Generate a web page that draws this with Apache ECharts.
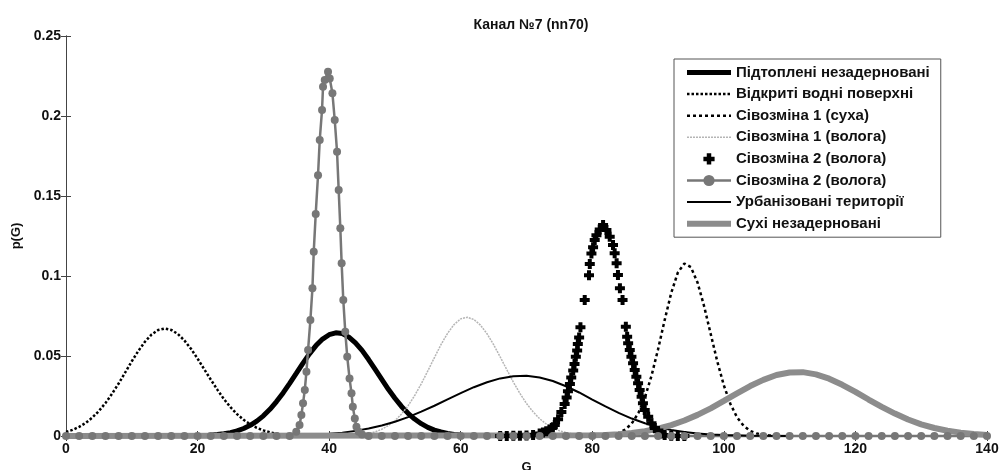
<!DOCTYPE html>
<html>
<head>
<meta charset="utf-8">
<script src="https://cdn.jsdelivr.net/npm/echarts@6/dist/echarts.min.js"></script>
<style>
  html, body { margin: 0; padding: 0; background: #fff; overflow: hidden; }
  #chart { width: 1001px; height: 470px; }
</style>
</head>
<body>
<div id="chart"></div>
<script>
// ===== Data =====
const seriesNames = [
  'Підтоплені незадерновані',
  'Відкриті водні поверхні',
  'Сівозміна 1 (суха)',
  'Сівозміна 1 (волога)',
  'Сівозміна 2 (волога)',
  'Сівозміна 2 (волога) ',
  'Урбанізовані території',
  'Сухі незадерновані'
];

const xTicks = [0, 20, 40, 60, 80, 100, 120, 140];
const yTicks = [0, 0.05, 0.1, 0.15, 0.2, 0.25];

// Підтоплені незадерновані
const podX = [22,23,24,25,26,27,28,29,30,31,32,33,34,35,36,37,38,39,40,41,42,43,44,45,46,47,48,49,50,51,52,53,54,55,56,57,58,59,60];
const podY = [0.0005,0.0009,0.0014,0.0021,0.0032,0.0047,0.0067,0.0093,0.0126,0.0167,0.0215,0.0269,0.0329,0.0391,0.0454,0.0513,0.0565,0.0606,0.0633,0.0645,0.0640,0.0618,0.0582,0.0535,0.0478,0.0416,0.0354,0.0292,0.0236,0.0185,0.0142,0.0106,0.0077,0.0054,0.0037,0.0025,0.0016,0.0010,0.0006];

// Відкриті водні поверхні
const waterX = [0,1,2,3,4,5,6,7,8,9,10,11,12,13,14,15,16,17,18,19,20,21,22,23,24,25,26,27,28,29,30,31,32,33,34,36];
const waterY = [0.0025,0.0038,0.0057,0.0082,0.0115,0.0156,0.0206,0.0264,0.0328,0.0397,0.0467,0.0532,0.0589,0.0634,0.0662,0.0672,0.0663,0.0638,0.0597,0.0545,0.0484,0.0418,0.0353,0.0290,0.0231,0.0180,0.0137,0.0101,0.0073,0.0051,0.0035,0.0023,0.0015,0.0009,0.0006,0];

// Сівозміна 1 (суха)
const dryX = [82,83,84,85,86,87,88,89,90,91,92,93,94,95,96,97,98,99,100,101,102,103,104,105,106,108];
const dryY = [0,0.0008,0.0019,0.0040,0.0078,0.0143,0.0241,0.0376,0.0542,0.0724,0.0894,0.1021,0.1078,0.1055,0.0959,0.0811,0.0638,0.0466,0.0316,0.0200,0.0117,0.0064,0.0032,0.0015,0.0007,0];

// Сівозміна 1 (волога)
const wet1X = [43,45,46,47,48,49,50,51,52,53,54,55,56,57,58,59,60,61,62,63,64,65,66,67,68,69,70,71,72,73,74,75,76,77,78,80];
const wet1Y = [0,0.0010,0.0016,0.0026,0.0042,0.0065,0.0096,0.0137,0.0189,0.0253,0.0326,0.0407,0.0490,0.0571,0.0642,0.0697,0.0732,0.0742,0.0728,0.0693,0.0639,0.0571,0.0494,0.0415,0.0337,0.0266,0.0203,0.0151,0.0108,0.0075,0.0051,0.0033,0.0021,0.0013,0.0008,0];

// Сівозміна 2 (волога), "+" markers
const wet2X = [66,67,68,69,70,71,72,72.5,73,73.5,74,74.3,74.8,75.3,75.8,76.1,76.3,76.6,76.8,77.1,77.3,77.5,77.7,77.8,78.0,78.2,78.85,79.5,79.62,79.87,80.12,80.37,80.63,81.13,81.64,82.15,82.65,83.15,83.4,83.7,83.9,84.2,84.6,85.1,85.3,85.45,85.7,85.95,86.2,86.45,86.7,86.96,87.2,87.5,87.7,87.97,88.5,89.0,89.5,90,90.5,91,92,93,94];
const wet2Y = [0,0,0.0001,0.0002,0.0003,0.0007,0.0015,0.0022,0.0030,0.0040,0.0055,0.0068,0.0105,0.0150,0.0200,0.0240,0.0280,0.0325,0.0365,0.0410,0.0450,0.0495,0.0535,0.0575,0.0615,0.0680,0.0850,0.1005,0.1075,0.1140,0.1180,0.1225,0.1255,0.1290,0.1318,0.1288,0.1246,0.1194,0.1142,0.1079,0.1006,0.0923,0.0850,0.0683,0.0620,0.0579,0.0538,0.0496,0.0454,0.0413,0.0371,0.0330,0.0288,0.0246,0.0204,0.0163,0.0121,0.0079,0.0050,0.0030,0.0015,0.0007,0.0002,0,0];

// Сівозміна 2 (волога), line with circles
const circX = [35.0,35.5,35.78,36.03,36.3,36.55,36.8,37.15,37.46,37.66,37.96,38.31,38.57,38.92,39.07,39.33,39.83,40.09,40.5,40.85,41.2,41.45,41.7,41.9,42.15,42.45,42.75,43.1,43.4,43.6,43.9,44.15,44.5,45];
const circY = [0.0027,0.0069,0.0131,0.0204,0.0288,0.0402,0.0538,0.0725,0.0923,0.1152,0.1388,0.1630,0.1850,0.2038,0.2183,0.2225,0.2277,0.2235,0.2142,0.1975,0.1777,0.1538,0.1298,0.1079,0.0850,0.0652,0.0496,0.0360,0.0267,0.0183,0.0110,0.0058,0.0027,0.0010];
const circZeroLeft = [0,2,4,6,8,10,12,14,16,18,20,22,24,26,28,30,32,34];
const circZeroRight = [46,48,50,52,54,56,58,60,62,64,66,68,70,72,74,76,78,80,82,84,86,88,90,92,94,96,98,100,102,104,106,108,110,112,114,116,118,120,122,124,126,128,130,132,134,136,138,140];

// Урбанізовані території
const urbX = [34,36,38,40,42,44,46,48,50,52,54,56,58,60,62,64,66,68,70,72,74,76,78,80,82,84,86,88,90,92,94,96,98,100,104,110];
const urbY = [0.0003,0.0005,0.0009,0.0014,0.0021,0.0032,0.0047,0.0066,0.0089,0.0118,0.0152,0.0189,0.0229,0.0268,0.0305,0.0336,0.0360,0.0374,0.0377,0.0366,0.0344,0.0311,0.0272,0.0228,0.0185,0.0145,0.0109,0.0080,0.0056,0.0038,0.0025,0.0016,0.0009,0.0006,0.0002,0];

// Сухі незадерновані
const sukhX = [0,80,82,84,86,88,90,92,94,96,98,100,102,104,106,108,110,112,114,116,118,120,122,124,126,128,130,132,134,136,138,140];
const sukhY = [0,0.0004,0.0007,0.0011,0.0019,0.0030,0.0046,0.0068,0.0097,0.0132,0.0173,0.0219,0.0266,0.0312,0.0351,0.0381,0.0397,0.0399,0.0385,0.0358,0.0320,0.0276,0.0228,0.0182,0.0140,0.0103,0.0073,0.0050,0.0033,0.0021,0.0013,0.0007];

// ===== helpers =====
const pairs = (xs, ys) => xs.map((x, i) => [x, ys[i]]);
const circData = circZeroLeft.map(x => [x, 0])
  .concat(pairs(circX, circY))
  .concat(circZeroRight.map(x => [x, 0]));

const plusPath = 'path://M3,0H7V3H10V7H7V10H3V7H0V3H3Z';
const FONT = 'Arial, "Liberation Sans", sans-serif';
const BOLD = { fontFamily: FONT, fontWeight: 'bold', color: '#111' };

// line widths per series (legend copies them)
const lineWidths = [5, 2.5, 2.5, 1.5, 0, 2.5, 2, 6];
const noMarker = [0, 1, 2, 3, 6, 7];
const legendData = seriesNames.map((name, i) => {
  const item = { name, lineStyle: { width: lineWidths[i] } };
  if (noMarker.includes(i)) item.itemStyle = { opacity: 0 };
  return item;
});

const chart = echarts.init(document.getElementById('chart'), null, { renderer: 'canvas' });

const axisLine = { show: true, lineStyle: { color: '#444', width: 1 } };
const tickIn = { show: true, inside: true, length: 5, lineStyle: { color: '#444' } };

const option = {
  animation: false,
  backgroundColor: '#fff',
  title: {
    text: 'Канал №7 (nn70)',
    left: 526,
    top: 13,
    textAlign: 'center',
    textStyle: Object.assign({ fontSize: 14 }, BOLD)
  },
  grid: { left: 66, right: 14, top: 36, bottom: 34, containLabel: false, outerBoundsMode: 'none' },
  legend: {
    orient: 'vertical',
    left: 674,
    top: 59,
    padding: [6, 11, 6, 10],
    itemWidth: 44,
    itemHeight: 14,
    itemGap: 6.6,
    backgroundColor: '#fff',
    borderColor: '#555',
    borderWidth: 1,
    borderRadius: 0,
    formatter: '{b|{name}}',
    textStyle: { rich: { b: Object.assign({ fontSize: 15, lineHeight: 15 }, BOLD) } },
    data: legendData
  },
  xAxis: [{
    type: 'value',
    min: xTicks[0],
    max: xTicks[xTicks.length - 1],
    interval: 20,
    name: 'G',
    nameLocation: 'middle',
    nameGap: 21,
    nameTextStyle: Object.assign({ fontSize: 13 }, BOLD),
    axisLine: axisLine,
    axisTick: tickIn,
    axisLabel: Object.assign({ margin: 6, fontSize: 14 }, BOLD),
    splitLine: { show: false }
  }, {
    type: 'value',
    position: 'top',
    min: xTicks[0],
    max: xTicks[xTicks.length - 1],
    interval: 20,
    axisLine: axisLine,
    axisTick: tickIn,
    axisLabel: { show: false },
    splitLine: { show: false }
  }],
  yAxis: [{
    type: 'value',
    min: yTicks[0],
    max: yTicks[yTicks.length - 1],
    interval: 0.05,
    name: 'p(G)',
    nameLocation: 'middle',
    nameGap: 42,
    nameRotate: 90,
    nameTextStyle: Object.assign({ fontSize: 13 }, BOLD),
    axisLine: axisLine,
    axisTick: tickIn,
    axisLabel: Object.assign({ margin: 5, fontSize: 14, formatter: v => String(Math.round(v * 100) / 100) }, BOLD),
    splitLine: { show: false }
  }, {
    type: 'value',
    position: 'right',
    min: yTicks[0],
    max: yTicks[yTicks.length - 1],
    interval: 0.05,
    axisLine: axisLine,
    axisTick: tickIn,
    axisLabel: { show: false },
    splitLine: { show: false }
  }],
  series: [
    {
      name: seriesNames[0], type: 'line', data: pairs(podX, podY),
      symbol: 'none', clip: false, z: 2,
      lineStyle: { color: '#000', width: lineWidths[0] }, itemStyle: { color: '#000' }
    },
    {
      name: seriesNames[1], type: 'line', data: pairs(waterX, waterY),
      symbol: 'none', clip: false, z: 2,
      lineStyle: { color: '#000', width: lineWidths[1], type: [2.5, 2] }, itemStyle: { color: '#000' }
    },
    {
      name: seriesNames[2], type: 'line', data: pairs(dryX, dryY),
      symbol: 'none', clip: false, z: 2,
      lineStyle: { color: '#000', width: lineWidths[2], type: [3, 3] }, itemStyle: { color: '#000' }
    },
    {
      name: seriesNames[3], type: 'line', data: pairs(wet1X, wet1Y),
      symbol: 'none', clip: false, z: 2,
      lineStyle: { color: '#b5b5b5', width: lineWidths[3], type: [2, 1] }, itemStyle: { color: '#b5b5b5' }
    },
    {
      name: seriesNames[4], type: 'line', data: pairs(wet2X, wet2Y),
      symbol: plusPath, symbolSize: 10, showSymbol: true, clip: false, z: 3,
      lineStyle: { width: lineWidths[4], color: '#000' }, itemStyle: { color: '#000' }
    },
    {
      name: seriesNames[5], type: 'line', data: circData,
      symbol: 'circle', symbolSize: 8, showSymbol: true, clip: false, z: 3,
      lineStyle: { color: '#777', width: lineWidths[5] }, itemStyle: { color: '#777' }
    },
    {
      name: seriesNames[6], type: 'line', data: pairs(urbX, urbY),
      symbol: 'none', clip: false, z: 3,
      lineStyle: { color: '#000', width: lineWidths[6] }, itemStyle: { color: '#000' }
    },
    {
      name: seriesNames[7], type: 'line', data: pairs(sukhX, sukhY),
      symbol: 'none', clip: false, z: 3,
      lineStyle: { color: '#8c8c8c', width: lineWidths[7] }, itemStyle: { color: '#8c8c8c' }
    }
  ]
};

chart.setOption(option);
</script>
</body>
</html>
